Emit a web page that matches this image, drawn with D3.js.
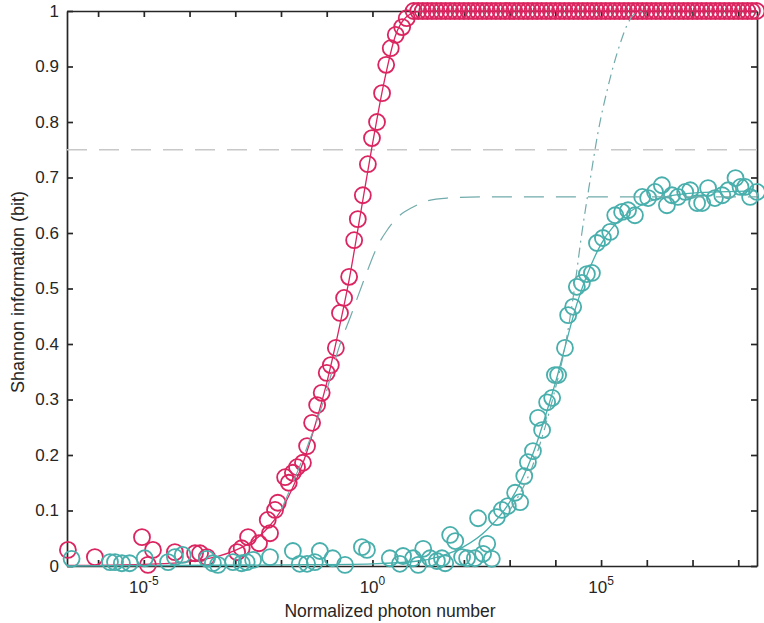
<!DOCTYPE html>
<meta charset="utf-8">
<script src="https://cdn.jsdelivr.net/npm/d3@7"></script>
<style>
  body { margin: 0; background: #fff; }
  text { font-family: "Liberation Sans", Arial, sans-serif; fill: #262626; }
</style>
<body>
<script>

// log10 of normalized photon number, and information in bits
var redLogN = [-6.66, -6.07, -5.04, -4.91, -4.80, -4.32, -3.88, -3.77, -3.62, -2.96, -2.86, -2.72, -2.48, -2.29, -2.24,
  -2.13, -2.07, -1.91, -1.83, -1.74, -1.65, -1.52, -1.43, -1.32, -1.21, -1.11, -1.00, -0.91, -0.80, -0.71, -0.62,
  -0.51, -0.40, -0.32, -0.21, -0.10, -0.01, 0.10, 0.21, 0.30, 0.40, 0.51, 0.65, 0.75,
  0.9, 1.0, 1.1, 1.2, 1.3, 1.4, 1.5, 1.6, 1.7, 1.8, 1.9, 2.0, 2.1, 2.2, 2.3, 2.4, 2.5, 2.6, 2.7, 2.8, 2.9,
  3.0, 3.1, 3.2, 3.3, 3.4, 3.5, 3.6, 3.7, 3.8, 3.9, 4.0, 4.1, 4.2, 4.3, 4.4, 4.5, 4.6, 4.7, 4.8, 4.9,
  5.0, 5.1, 5.2, 5.3, 5.4, 5.5, 5.6, 5.7, 5.8, 5.9, 6.0, 6.1, 6.2, 6.3, 6.4, 6.5, 6.6, 6.7, 6.8, 6.9,
  7.0, 7.1, 7.2, 7.3, 7.4, 7.5, 7.6, 7.7, 7.8, 7.9, 8.0, 8.1, 8.2, 8.3, 8.4]
var redInfo = [0.029, 0.016, 0.052, 0.002, 0.029, 0.025, 0.023, 0.023, 0.016, 0.025, 0.032, 0.052, 0.041, 0.083, 0.059,
  0.101, 0.114, 0.160, 0.150, 0.168, 0.178, 0.186, 0.216, 0.258, 0.290, 0.312, 0.348, 0.362, 0.393, 0.456, 0.483,
  0.521, 0.587, 0.625, 0.668, 0.724, 0.771, 0.800, 0.852, 0.903, 0.933, 0.957, 0.971, 0.987,
  1, 1, 1, 1, 1, 1, 1, 1, 1, 1, 1, 1, 1, 1, 1, 1, 1, 1, 1, 1, 1,
  1, 1, 1, 1, 1, 1, 1, 1, 1, 1, 1, 1, 1, 1, 1, 1, 1, 1, 1, 1,
  1, 1, 1, 1, 1, 1, 1, 1, 1, 1, 1, 1, 1, 1, 1, 1, 1, 1, 1, 1,
  1, 1, 1, 1, 1, 1, 1, 1, 1, 1, 1, 1, 1, 1, 1]

var tealLogN = [-6.58, -5.74, -5.63, -5.48, -5.31, -4.98, -4.47, -4.32, -4.15, -3.62, -3.49, -3.38, -3.05, -2.86, -2.75,
  -2.61, -2.24, -1.74, -1.59, -1.43, -1.26, -1.15, -0.87, -0.60, -0.23, -0.12, 0.38, 0.60, 0.67, 0.89, 1.00,
  1.11, 1.26, 1.41, 1.52, 1.59, 1.70, 1.81, 1.96, 2.07, 2.24, 2.31, 2.42, 2.51, 2.61, 2.72, 2.83, 2.96,
  3.12, 3.23, 3.32, 3.40, 3.51, 3.62, 3.71, 3.82, 3.93, 3.99, 4.06, 4.21, 4.28, 4.39, 4.47, 4.58, 4.69,
  4.80, 4.91, 5.04, 5.20, 5.31, 5.46, 5.59, 5.74, 5.90, 6.03, 6.18, 6.33, 6.44, 6.55, 6.68, 6.84, 6.95,
  7.10, 7.21, 7.34, 7.49, 7.65, 7.78, 7.94, 8.05, 8.15, 8.26, 8.41]
var tealInfo = [0.013, 0.007, 0.007, 0.005, 0.005, 0.014, 0.007, 0.016, 0.020, 0.013, 0.005, 0.002, 0.007, 0.005, 0.007,
  0.011, 0.016, 0.027, 0.004, 0.004, 0.007, 0.027, 0.014, 0.002, 0.034, 0.029, 0.014, 0.004, 0.018, 0.014, 0.002,
  0.031, 0.014, 0.009, 0.014, 0.005, 0.056, 0.045, 0.016, 0.014, 0.014, 0.086, 0.022, 0.040, 0.013, 0.088, 0.101, 0.108,
  0.132, 0.115, 0.162, 0.187, 0.207, 0.267, 0.245, 0.295, 0.303, 0.344, 0.344, 0.393, 0.452, 0.467, 0.503, 0.510, 0.526,
  0.528, 0.582, 0.591, 0.602, 0.632, 0.638, 0.641, 0.632, 0.665, 0.663, 0.674, 0.686, 0.650, 0.668, 0.665, 0.674, 0.677,
  0.654, 0.654, 0.681, 0.663, 0.668, 0.677, 0.699, 0.683, 0.683, 0.665, 0.674]

// fitted / theoretical curves
var redFitLogN = [-6.68, -5, -4, -3.5, -3, -2.5, -2.25, -2, -1.75, -1.5, -1.25, -1, -0.75, -0.5, -0.25, 0, 0.25, 0.5, 0.75, 1.0, 1.25, 8.41]
var redFitInfo = [0.001, 0.003, 0.008, 0.015, 0.028, 0.052, 0.072, 0.1, 0.14, 0.19, 0.255, 0.33, 0.42, 0.52, 0.64, 0.76, 0.87, 0.955, 0.99, 0.999, 1, 1]

var tealFitLogN = [-6.68, -2, 0, 1, 1.5, 2, 2.5, 3, 3.5, 4, 4.5, 5, 5.5, 6, 6.5, 7, 8.41]
var tealFitInfo = [0.0, 0.002, 0.004, 0.009, 0.018, 0.035, 0.065, 0.115, 0.2, 0.33, 0.48, 0.58, 0.63, 0.655, 0.667, 0.672, 0.676]

var boundLogN = [-2.0, -1.43, -1.04, -0.75, -0.45, -0.16, 0.12, 0.32, 0.56, 0.89, 1.2, 1.63, 2.35, 8.41]
var boundInfo = [0.10, 0.214, 0.305, 0.389, 0.456, 0.521, 0.578, 0.605, 0.629, 0.647, 0.658, 0.663, 0.665, 0.665]

var shiftLogN = [3.0, 3.5, 4.0, 4.2, 4.4, 4.58, 4.76, 4.93, 5.15, 5.42, 5.57, 5.74, 5.96]
var shiftInfo = [0.1, 0.18, 0.32, 0.39, 0.49, 0.6, 0.695, 0.78, 0.863, 0.942, 0.975, 0.995, 1.0]

var refLevel = 0.75
var yTicks = [0, 0.1, 0.2, 0.3, 0.4, 0.5, 0.6, 0.7, 0.8, 0.9, 1]
var xDecades = [-6, -5, -4, -3, -2, -1, 0, 1, 2, 3, 4, 5, 6, 7, 8]
var xLabelExps = [-5, 0, 5]

var width = 764
var height = 623
var pLeft = 67, pRight = 757, pTop = 11, pBottom = 566

var red = "#db2560"
var teal = "#48afac"
var tealLight = "#72abab"

var x = d3.scaleLog().domain([Math.pow(10, -6.68), Math.pow(10, 8.41)]).range([pLeft, pRight])
var y = d3.scaleLinear().domain([0, 1]).range([pBottom, pTop])

var svg = d3.select("body").append("svg")
            .attr("width", width)
            .attr("height", height)

function pts(logs, vals) {
  return logs.map(function(d, i) { return [Math.pow(10, d), vals[i]] })
}

var line = d3.line().x(function(d) { return x(d[0]) }).y(function(d) { return y(d[1]) }).curve(d3.curveMonotoneX)

// axes box
var tickVals = xDecades.map(function(d) { return Math.pow(10, d) })
svg.append("g").attr("transform", "translate(0," + pBottom + ")")
   .call(d3.axisBottom(x).tickValues(tickVals).tickSize(-6).tickSizeOuter(0).tickFormat(""))
svg.append("g").attr("transform", "translate(0," + pTop + ")")
   .call(d3.axisTop(x).tickValues(tickVals).tickSize(-6).tickSizeOuter(0).tickFormat(""))
svg.append("g").attr("transform", "translate(" + pLeft + ",0)")
   .call(d3.axisLeft(y).tickValues(yTicks).tickSize(-6).tickSizeOuter(0).tickPadding(8).tickFormat(d3.format("~g")))
svg.append("g").attr("transform", "translate(" + pRight + ",0)")
   .call(d3.axisRight(y).tickValues(yTicks).tickSize(-6).tickSizeOuter(0).tickFormat(""))

svg.selectAll(".domain, .tick line").attr("stroke", "#262626").attr("stroke-width", 1.7)
svg.selectAll(".tick text").style("font-size", "17px").attr("fill", "#262626")

// x tick labels with superscripts
xLabelExps.forEach(function(e) {
  var t = svg.append("text")
     .attr("x", x(Math.pow(10, e)))
     .attr("y", 593)
     .attr("text-anchor", "middle")
     .style("font-size", "17px")
  t.append("tspan").text("10")
  t.append("tspan").attr("dy", -8).style("font-size", "12px").text(e < 0 ? "-" + Math.abs(e) : e)
})

svg.append("text")
   .attr("x", 390).attr("y", 617)
   .attr("text-anchor", "middle")
   .style("font-size", "17.5px")
   .text("Normalized photon number")

svg.append("text")
   .attr("transform", "translate(24," + 292 + ") rotate(-90)")
   .attr("text-anchor", "middle")
   .style("font-size", "18px")
   .text("Shannon information (bit)")

// reference level
svg.append("line")
   .attr("x1", pLeft).attr("x2", pRight)
   .attr("y1", y(refLevel)).attr("y2", y(refLevel))
   .attr("stroke", "#c8c8c8").attr("stroke-width", 1.5).attr("stroke-dasharray", "20,12")

// red series
svg.append("path").attr("d", line(pts(redFitLogN, redFitInfo)))
   .attr("fill", "none").attr("stroke", red).attr("stroke-width", 1.3)
svg.append("g").selectAll("circle").data(pts(redLogN, redInfo)).enter().append("circle")
   .attr("cx", function(d) { return x(d[0]) })
   .attr("cy", function(d) { return y(d[1]) })
   .attr("r", 8).attr("fill", "none").attr("stroke", red).attr("stroke-width", 1.8)

// teal series
svg.append("path").attr("d", line(pts(tealFitLogN, tealFitInfo)))
   .attr("fill", "none").attr("stroke", teal).attr("stroke-width", 1.3)
svg.append("g").selectAll("circle").data(pts(tealLogN, tealInfo)).enter().append("circle")
   .attr("cx", function(d) { return x(d[0]) })
   .attr("cy", function(d) { return y(d[1]) })
   .attr("r", 8).attr("fill", "none").attr("stroke", teal).attr("stroke-width", 1.8)

svg.append("path").attr("d", line(pts(boundLogN, boundInfo)))
   .attr("fill", "none").attr("stroke", tealLight).attr("stroke-width", 1.2).attr("stroke-dasharray", "20,12")
svg.append("path").attr("d", line(pts(shiftLogN, shiftInfo)))
   .attr("fill", "none").attr("stroke", tealLight).attr("stroke-width", 1.2).attr("stroke-dasharray", "10,5,2,5")

</script>
</body>
